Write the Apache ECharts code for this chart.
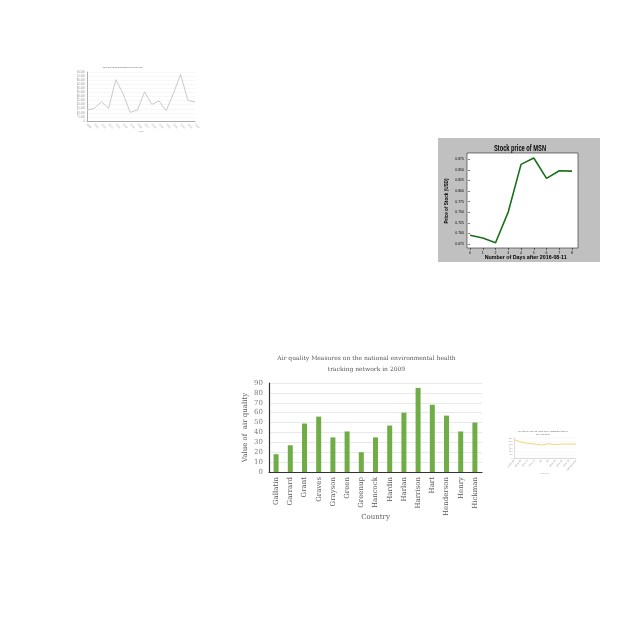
<!DOCTYPE html>
<html><head><meta charset="utf-8">
<script src="https://cdn.jsdelivr.net/npm/echarts@6/dist/echarts.min.js"></script>
<style>
html,body{margin:0;padding:0;background:#fff;width:640px;height:640px;overflow:hidden;}
.c{position:absolute;}
</style></head>
<body>
<div id="gdp" class="c" style="left:70px;top:60px;width:140px;height:80px;"></div>
<div id="msn" class="c" style="left:438px;top:138px;width:162px;height:124px;"></div>
<div id="air" class="c" style="left:235px;top:345px;width:250px;height:185px;"></div>
<div id="sex" class="c" style="left:505px;top:425px;width:75px;height:55px;"></div>
<script>
// ---- data ----
const gdpYears = ['1999','2000','2001','2002','2003','2004','2005','2006','2007','2008','2009','2010','2011','2012','2013','2014'];
const gdpValues = [13400,15400,23500,15400,50700,33700,10600,13400,35700,20300,24700,12500,33700,57200,25500,23100];

const msnDays = [0,1,2,3,4,5,6,7,8];
const msnPrices = [0.6955,0.689,0.678,0.751,0.863,0.878,0.830,0.848,0.847];
const msnTicks = [0.675,0.700,0.725,0.750,0.775,0.800,0.825,0.850,0.875];

const airCountries = ['Gallatin','Garrard','Grant','Graves','Grayson','Green','Greenup','Hancock','Hardin','Harlan','Harrison','Hart','Henderson','Henry','Hickman'];
const airValues = [18,27,49,56,35,41,20,35,47,60,85,68,57,41,50];

const sexLabels = ['Under 65','65 to 69','70 to 74','75 to 79','80','85','85 to 89','90 to 94','95 to 99','100 and over'];
const sexValues = [110,96,88,84,78,86,80,84,84,84];

// helper: measure text width to scale labels horizontally
const mctx = document.createElement('canvas').getContext('2d');
function fitScale(text, font, target){ mctx.font = font; return target / mctx.measureText(text).width; }

// ---- GDP chart ----
const gdpTitle = 'GDP per capita for Dalian from 1999 to 2014';
const tinyFont = '2px "Liberation Sans"';
const gdp = echarts.init(document.getElementById('gdp'));
gdp.setOption({
  animation:false,
  graphic:[{type:'text',x:53,y:7,scaleX:fitScale(gdpTitle,tinyFont,40),
    style:{text:gdpTitle,font:tinyFont,fill:'#555',align:'center',verticalAlign:'middle'}}],
  grid:{left:17,right:15,top:12,bottom:19,outerBoundsMode:'none'},
  xAxis:{type:'category',data:gdpYears,boundaryGap:false,name:'Year',nameLocation:'middle',nameGap:9,nameMoveOverlap:false,
    nameTextStyle:{fontSize:2.5,color:'#888'},
    axisLine:{lineStyle:{color:'#999',width:0.8}},axisTick:{show:false},
    axisLabel:{fontSize:2.6,color:'#999',rotate:-45,margin:3,interval:0}},
  yAxis:{type:'value',min:0,max:60000,interval:5000,name:'GDP per capita (RMB, current prices)',nameLocation:'middle',nameGap:9,nameMoveOverlap:false,
    nameTextStyle:{fontSize:2.4,color:'#999'},
    axisLine:{show:true,lineStyle:{color:'#999',width:0.8}},axisTick:{show:false},
    axisLabel:{fontSize:2.6,color:'#999',margin:2},
    splitLine:{lineStyle:{color:'#eee',width:0.5}}},
  series:[{type:'line',data:gdpValues,symbol:'none',lineStyle:{color:'#c9c9c9',width:1}}]
});

// ---- MSN chart ----
const tFont = 'bold 9px "Liberation Sans"';
const nFont = 'bold 6px "Liberation Sans"';
const msnTitle = 'Stock price of MSN';
const msnXName = 'Number of Days after 2016-08-11';
const msnYName = 'Price of Stock (USD)';
const msn = echarts.init(document.getElementById('msn'));
msn.setOption({
  animation:false,
  backgroundColor:'#c0c0c0',
  grid:{left:29,right:22,top:15,bottom:14,show:true,backgroundColor:'#fff',borderColor:'#222',borderWidth:0.6,outerBoundsMode:'none'},
  xAxis:{type:'value',min:-0.24,max:8.47,
    axisLine:{show:false},splitLine:{show:false},
    axisTick:{show:true,length:2,lineStyle:{color:'#000',width:0.5},customValues:msnDays},
    axisLabel:{fontSize:3.5,color:'#000',margin:3,customValues:msnDays}},
  yAxis:{type:'value',min:0.6656,max:0.8899,
    axisLine:{show:false},splitLine:{show:false},
    axisTick:{show:true,length:2,lineStyle:{color:'#000',width:0.5},customValues:msnTicks},
    axisLabel:{fontSize:3.5,color:'#000',margin:3,customValues:msnTicks,formatter:v=>v.toFixed(3)}},
  graphic:[
    {type:'text',x:82,y:10.5,scaleX:fitScale(msnTitle,tFont,52),
      style:{text:msnTitle,font:tFont,fill:'#000',align:'center',verticalAlign:'middle'}},
    {type:'text',x:87.7,y:119.7,scaleX:fitScale(msnXName,nFont,82),
      style:{text:msnXName,font:nFont,fill:'#000',align:'center',verticalAlign:'middle'}},
    {type:'text',x:8.7,y:63,rotation:Math.PI/2,scaleX:fitScale(msnYName,nFont,45),
      style:{text:msnYName,font:nFont,fill:'#000',align:'center',verticalAlign:'middle'}}
  ],
  series:[{type:'line',data:msnDays.map((d,i)=>[d,msnPrices[i]]),symbol:'none',
    lineStyle:{color:'#1a701a',width:1.6}}]
});

// ---- Air quality chart ----
const sf = '"DejaVu Serif","Liberation Serif",serif';
const airTitle = 'Air quality Measures on the national environmental health\ntracking network in 2009';
const air = echarts.init(document.getElementById('air'));
air.setOption({
  animation:false,
  graphic:[{type:'text',x:131.5,y:19,
    style:{text:airTitle,font:'6px "DejaVu Serif"',fill:'#595959',align:'center',verticalAlign:'middle',lineHeight:10.5}}],
  grid:{left:34,right:3,top:38,bottom:58,outerBoundsMode:'none'},
  xAxis:{type:'category',data:airCountries,name:'Country',nameLocation:'middle',nameGap:42,nameMoveOverlap:false,
    nameTextStyle:{fontSize:7,color:'#595959',fontFamily:sf},
    axisLine:{lineStyle:{color:'#333',width:1.2}},axisTick:{show:false},
    axisLabel:{rotate:90,fontSize:7,color:'#595959',fontFamily:sf,interval:0,margin:5}},
  yAxis:{type:'value',min:0,max:90,interval:10,name:'Value of  air quality',nameLocation:'middle',nameGap:20,nameMoveOverlap:false,
    nameTextStyle:{fontSize:7,color:'#595959',fontFamily:sf},
    axisLine:{show:true,lineStyle:{color:'#333',width:1.2}},axisTick:{show:false},
    axisLabel:{fontSize:7,color:'#7f7f7f',fontFamily:sf,margin:6},
    splitLine:{lineStyle:{color:'#e3e3e3',width:0.8}}},
  series:[{type:'bar',data:airValues,barWidth:5,itemStyle:{color:'#70ad47'}}]
});

// ---- Small sex ratio chart ----
const sexTitle1 = 'Sex ratio by age (65 years older) (GENDER) 2015 in';
const sexTitle2 = 'the Year 2009';
const sex = echarts.init(document.getElementById('sex'));
const s1 = fitScale(sexTitle1,tinyFont,50);
sex.setOption({
  animation:false,
  graphic:[
    {type:'text',x:38,y:6,scaleX:s1,style:{text:sexTitle1,font:tinyFont,fill:'#666',align:'center',verticalAlign:'middle'}},
    {type:'text',x:38,y:9.5,scaleX:s1,style:{text:sexTitle2,font:tinyFont,fill:'#666',align:'center',verticalAlign:'middle'}}
  ],
  grid:{left:9,right:4,top:13,bottom:22,outerBoundsMode:'none'},
  xAxis:{type:'category',data:sexLabels,boundaryGap:false,name:'Category',nameLocation:'middle',nameGap:14,nameMoveOverlap:false,
    nameTextStyle:{fontSize:2.2,color:'#aaa'},
    axisLine:{lineStyle:{color:'#bbb',width:0.5}},axisTick:{show:false},
    axisLabel:{fontSize:2.4,color:'#999',rotate:50,interval:0,margin:2}},
  yAxis:{type:'value',min:0,max:120,interval:20,name:'Sex ratio',nameLocation:'middle',nameGap:4,nameMoveOverlap:false,
    nameTextStyle:{fontSize:2.2,color:'#aaa'},
    axisLine:{show:true,lineStyle:{color:'#bbb',width:0.5}},axisTick:{show:false},
    axisLabel:{fontSize:2.4,color:'#999',margin:1.5},
    splitLine:{lineStyle:{color:'#f0f0f0',width:0.4}}},
  series:[{type:'line',data:sexValues,symbol:'none',lineStyle:{color:'#f2d77a',width:1}}]
});
</script>
</body></html>
